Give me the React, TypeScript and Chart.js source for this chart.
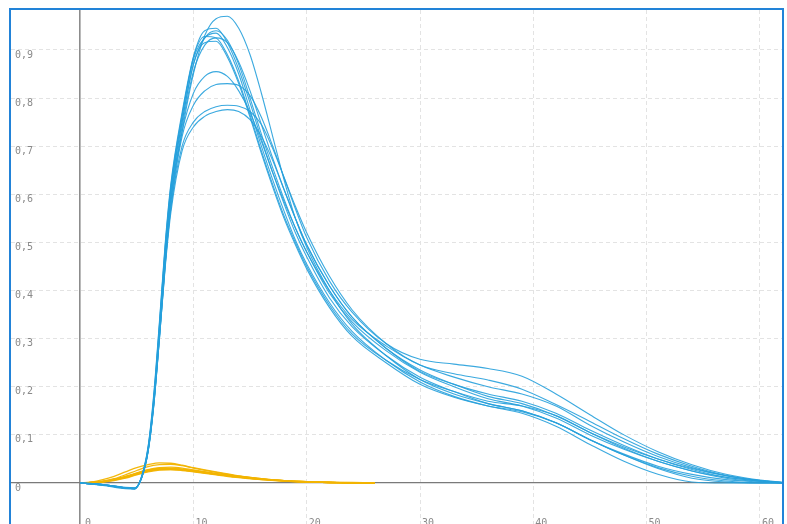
import React, { useEffect, useRef } from "react";
import { Chart, registerables } from "chart.js";

Chart.register(...registerables);

// x positions shared by all blue curves
const blueX = [0, 2, 4, 4.8, 5.4, 6, 6.5, 7, 7.5, 8, 9, 10, 11, 12, 13, 14, 15, 16, 17, 18, 19, 20, 22, 24, 27, 30, 33, 36, 39, 42, 45, 48, 51, 54, 57, 60, 62];

const blue1 = [0, -0.004, -0.010, -0.011, 0.008, 0.065, 0.16, 0.30, 0.45, 0.58, 0.73, 0.85, 0.93, 0.965, 0.97, 0.945, 0.89, 0.81, 0.72, 0.63, 0.55, 0.49, 0.40, 0.33, 0.265, 0.215, 0.185, 0.165, 0.15, 0.125, 0.09, 0.06, 0.035, 0.018, 0.007, 0.002, 0];
const blue2 = [0, -0.004, -0.011, -0.012, 0.010, 0.072, 0.175, 0.325, 0.485, 0.61, 0.76, 0.885, 0.94, 0.945, 0.915, 0.86, 0.79, 0.715, 0.645, 0.58, 0.52, 0.47, 0.385, 0.325, 0.265, 0.22, 0.19, 0.165, 0.15, 0.125, 0.09, 0.058, 0.032, 0.014, 0.004, 0, 0];
const blue3 = [0, -0.003, -0.010, -0.011, 0.009, 0.068, 0.17, 0.315, 0.47, 0.60, 0.75, 0.87, 0.925, 0.94, 0.92, 0.87, 0.80, 0.725, 0.655, 0.59, 0.53, 0.48, 0.395, 0.335, 0.275, 0.23, 0.20, 0.175, 0.16, 0.135, 0.10, 0.07, 0.045, 0.025, 0.012, 0.004, 0];
const blue4 = [0, -0.004, -0.011, -0.012, 0.011, 0.074, 0.18, 0.33, 0.49, 0.615, 0.765, 0.88, 0.925, 0.935, 0.905, 0.85, 0.775, 0.70, 0.63, 0.565, 0.505, 0.455, 0.375, 0.315, 0.255, 0.21, 0.18, 0.16, 0.145, 0.118, 0.08, 0.045, 0.018, 0.002, 0, 0, 0];
const blue5 = [0, -0.005, -0.012, -0.013, 0.012, 0.076, 0.185, 0.335, 0.495, 0.62, 0.77, 0.885, 0.928, 0.925, 0.89, 0.835, 0.765, 0.69, 0.62, 0.555, 0.50, 0.45, 0.37, 0.31, 0.255, 0.215, 0.19, 0.17, 0.16, 0.14, 0.105, 0.075, 0.05, 0.03, 0.015, 0.005, 0.001];
const blue6 = [0, -0.003, -0.009, -0.010, 0.008, 0.066, 0.165, 0.305, 0.46, 0.59, 0.74, 0.855, 0.91, 0.925, 0.915, 0.875, 0.815, 0.745, 0.675, 0.61, 0.55, 0.495, 0.41, 0.345, 0.28, 0.235, 0.205, 0.18, 0.165, 0.14, 0.105, 0.072, 0.045, 0.025, 0.01, 0.003, 0];
const blue7 = [0, -0.004, -0.010, -0.011, 0.010, 0.07, 0.172, 0.32, 0.478, 0.605, 0.75, 0.87, 0.915, 0.918, 0.885, 0.83, 0.76, 0.685, 0.615, 0.55, 0.495, 0.445, 0.365, 0.305, 0.25, 0.205, 0.178, 0.16, 0.148, 0.125, 0.09, 0.058, 0.03, 0.01, 0.002, 0, 0];
const blue8 = [0, -0.004, -0.011, -0.012, 0.010, 0.07, 0.17, 0.315, 0.47, 0.59, 0.73, 0.81, 0.845, 0.855, 0.845, 0.815, 0.77, 0.71, 0.645, 0.585, 0.53, 0.48, 0.40, 0.34, 0.285, 0.245, 0.22, 0.20, 0.185, 0.16, 0.12, 0.085, 0.055, 0.032, 0.015, 0.005, 0.001];
const blue9 = [0, -0.003, -0.010, -0.011, 0.009, 0.066, 0.163, 0.30, 0.45, 0.57, 0.72, 0.785, 0.815, 0.828, 0.83, 0.826, 0.805, 0.76, 0.70, 0.635, 0.57, 0.51, 0.42, 0.355, 0.29, 0.257, 0.247, 0.238, 0.222, 0.185, 0.142, 0.10, 0.065, 0.038, 0.018, 0.006, 0.002];
const blue10 = [0, -0.004, -0.011, -0.012, 0.010, 0.068, 0.165, 0.305, 0.455, 0.57, 0.70, 0.75, 0.772, 0.782, 0.785, 0.783, 0.772, 0.745, 0.695, 0.635, 0.575, 0.52, 0.43, 0.36, 0.29, 0.245, 0.227, 0.214, 0.195, 0.163, 0.128, 0.092, 0.06, 0.035, 0.016, 0.005, 0.001];
const blue11 = [0, -0.003, -0.010, -0.011, 0.009, 0.065, 0.16, 0.30, 0.445, 0.56, 0.69, 0.74, 0.762, 0.772, 0.776, 0.772, 0.755, 0.72, 0.67, 0.61, 0.55, 0.495, 0.41, 0.345, 0.28, 0.232, 0.205, 0.185, 0.17, 0.145, 0.11, 0.078, 0.05, 0.028, 0.012, 0.004, 0];

// x positions shared by all orange curves
const orangeX = [0, 1, 2, 3, 4, 5, 6, 7, 8, 9, 10, 12, 14, 16, 18, 20, 22, 24, 26];

const orange1 = [0, 0.002, 0.007, 0.014, 0.023, 0.032, 0.038, 0.042, 0.041, 0.037, 0.032, 0.023, 0.015, 0.009, 0.005, 0.002, 0.001, 0, 0];
const orange2 = [0, 0.001, 0.004, 0.009, 0.017, 0.026, 0.034, 0.038, 0.039, 0.036, 0.031, 0.022, 0.014, 0.008, 0.004, 0.002, 0.001, 0, 0];
const orange3 = [0, 0.001, 0.003, 0.007, 0.013, 0.020, 0.027, 0.031, 0.031, 0.029, 0.026, 0.019, 0.013, 0.008, 0.005, 0.003, 0.0015, 0.0005, 0];
const orange4 = [0, 0.001, 0.003, 0.007, 0.012, 0.019, 0.025, 0.029, 0.029, 0.027, 0.024, 0.018, 0.012, 0.007, 0.004, 0.002, 0.001, 0, 0];
const orange5 = [0, 0.001, 0.004, 0.008, 0.014, 0.021, 0.028, 0.032, 0.033, 0.031, 0.027, 0.020, 0.014, 0.009, 0.005, 0.003, 0.001, 0, 0];
const orange6 = [0, 0.001, 0.002, 0.006, 0.011, 0.018, 0.024, 0.028, 0.028, 0.026, 0.023, 0.017, 0.011, 0.007, 0.004, 0.002, 0.001, 0, 0];
const orange7 = [0, 0.001, 0.003, 0.007, 0.013, 0.020, 0.026, 0.030, 0.030, 0.028, 0.025, 0.019, 0.013, 0.008, 0.005, 0.003, 0.002, 0.001, 0];
const orange8 = [0, 0.0005, 0.002, 0.005, 0.010, 0.017, 0.023, 0.027, 0.028, 0.027, 0.024, 0.018, 0.012, 0.0075, 0.0045, 0.0025, 0.001, 0.0003, 0];

const blueSeries = [blue1, blue2, blue3, blue4, blue5, blue6, blue7, blue8, blue9, blue10, blue11];
const orangeSeries = [orange1, orange2, orange3, orange4, orange5, orange6, orange7, orange8];

const BLUE = "rgba(38,160,220,0.9)";
const ORANGE = "rgba(242,180,0,0.95)";
const GRID = "#e3e3e3";
const AXIS = "#8c8c8c";
const LABEL = "#8a8a8a";

const isZero = (v: any) => v !== undefined && Math.abs(Number(v)) < 1e-9;

export default function App() {
  const ref = useRef<HTMLCanvasElement | null>(null);

  useEffect(() => {
    if (!ref.current) return;
    const mk = (xs: number[], ys: number[], color: string, w: number) => ({
      data: ys.map((y, i) => ({ x: xs[i], y })),
      borderColor: color,
      backgroundColor: color,
      borderWidth: w,
      pointRadius: 0,
      fill: false,
      cubicInterpolationMode: "monotone" as const,
    });
    const datasets = [
      ...blueSeries.map((ys) => mk(blueX, ys, BLUE, 1.1)),
      ...orangeSeries.map((ys) => mk(orangeX, ys, ORANGE, 1.3)),
    ];
    const font = { family: "'DejaVu Sans Mono', monospace", size: 10 };
    const chart = new Chart(ref.current, {
      type: "line",
      data: { datasets },
      options: {
        animation: false,
        responsive: false,
        maintainAspectRatio: false,
        layout: { padding: 0 },
        plugins: { legend: { display: false }, tooltip: { enabled: false } },
        scales: {
          x: {
            type: "linear",
            min: -6.1,
            max: 61.95,
            grid: {
              drawTicks: false,
              color: (ctx: any) => (isZero(ctx.tick?.value) ? AXIS : GRID),
              lineWidth: (ctx: any) => (isZero(ctx.tick?.value) ? 1.6 : 1),
            },
            border: {
              display: false,
              dash: (ctx: any) => (isZero(ctx.tick?.value) ? [] : [4, 3]),
            },
            ticks: {
              stepSize: 10,
              includeBounds: false,
              mirror: true,
              padding: 0,
              labelOffset: 8,
              color: LABEL,
              font,
              maxRotation: 0,
              autoSkip: false,
              callback: (v: any) => String(Math.round(Number(v))),
            },
            afterFit: (s: any) => {
              s.height = 0;
              s.paddingLeft = 0;
              s.paddingRight = 0;
            },
          },
          y: {
            type: "linear",
            min: -0.0956,
            max: 0.983,
            grid: {
              drawTicks: false,
              color: (ctx: any) => (isZero(ctx.tick?.value) ? "#7a7a7a" : GRID),
              lineWidth: (ctx: any) => (isZero(ctx.tick?.value) ? 1.2 : 1),
            },
            border: {
              display: false,
              dash: (ctx: any) => (isZero(ctx.tick?.value) ? [] : [4, 3]),
            },
            ticks: {
              stepSize: 0.1,
              includeBounds: false,
              mirror: true,
              padding: 4,
              labelOffset: 5,
              color: LABEL,
              font,
              callback: (v: any) => {
                const r = Math.round(Number(v) * 10) / 10;
                return r === 0 ? "0" : String(r).replace(".", ",");
              },
            },
            afterFit: (s: any) => {
              s.width = 0;
              s.paddingTop = 0;
              s.paddingBottom = 0;
            },
          },
        },
      },
    });
    return () => chart.destroy();
  }, []);

  return (
    <div
      style={{
        position: "fixed",
        left: 0,
        top: 0,
        width: 787,
        height: 524,
        overflow: "hidden",
        background: "#ffffff",
      }}
    >
      <div
        style={{
          position: "absolute",
          left: 9,
          top: 8,
          width: 771,
          height: 560,
          border: "2px solid #2283d8",
        }}
      >
        <canvas
          ref={ref}
          width={771}
          height={519}
          style={{ display: "block", width: 771, height: 519 }}
        />
      </div>
    </div>
  );
}
